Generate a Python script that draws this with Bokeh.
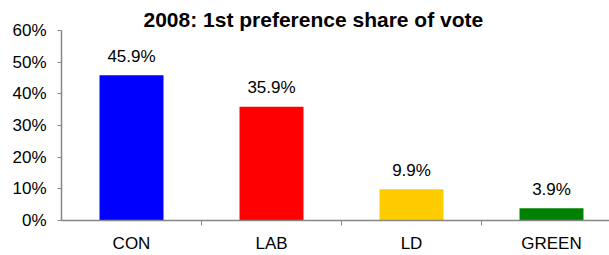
from bokeh.plotting import figure
from bokeh.models import Range1d, FixedTicker, ColumnDataSource, Title
from bokeh.core.properties import value
from bokeh.embed import file_html
from bokeh.resources import INLINE

# data
parties = ["CON", "LAB", "LD", "GREEN"]
shares = [45.9, 35.9, 9.9, 3.9]
colors = ["#0000FF", "#FF0000", "#FFCC00", "#008000"]
y_ticks = [0, 10, 20, 30, 40, 50, 60]
y_tick_labels = ["0%", "10%", "20%", "30%", "40%", "50%", "60%"]
title_text = "2008: 1st preference share of vote"

xpos = [i + 0.5 for i in range(len(parties))]
labels = [f"{v:.1f}%" for v in shares]
src = ColumnDataSource(dict(x=xpos, top=shares, color=colors, label=labels))

FONT = "Liberation Sans"
AXIS_COLOR = "#868686"

p = figure(width=609, height=255, output_backend="svg",
           toolbar_location=None,
           x_range=Range1d(0, 548 / 140), y_range=Range1d(0, 60),
           min_border_left=61, min_border_right=0, min_border_top=30,
           min_border_bottom=35)
p.title = None
t = Title(text=title_text, text_font=FONT, text_font_size="21px",
          text_font_style="bold", text_color="#000000",
          align="left", offset=82, standoff=0)
p.add_layout(t, "above")

p.vbar(x="x", top="top", width=0.457, color="color", source=src, line_color=None)
p.text(x="x", y="top", text="label", source=src, text_align="center",
       text_baseline="alphabetic", y_offset=-19, text_font=value(FONT),
       text_font_size="17px", text_color="#000000")

p.xgrid.visible = False
p.ygrid.visible = False
p.outline_line_color = None
p.background_fill_color = "white"
p.border_fill_color = "white"

xa = p.xaxis[0]
xa.ticker = FixedTicker(ticks=xpos, minor_ticks=[1, 2, 3])
xa.major_label_overrides = {x: name for x, name in zip(xpos, parties)}
xa.major_tick_line_color = None
xa.major_tick_out = 0
xa.major_tick_in = 0
xa.minor_tick_out = 5
xa.minor_tick_in = 0
xa.minor_tick_line_color = AXIS_COLOR
xa.axis_line_color = AXIS_COLOR
xa.axis_line_width = 1.5
xa.major_label_standoff = 8
xa.major_label_text_font = FONT
xa.major_label_text_font_size = "17px"
xa.major_label_text_color = "#000000"

ya = p.yaxis[0]
ya.ticker = FixedTicker(ticks=y_ticks, minor_ticks=[])
ya.major_label_overrides = {t_: l for t_, l in zip(y_ticks, y_tick_labels)}
ya.major_tick_out = 4
ya.major_tick_in = 0
ya.major_tick_line_color = AXIS_COLOR
ya.axis_line_color = AXIS_COLOR
ya.axis_line_width = 1.5
ya.major_label_standoff = 11
ya.major_label_text_font = FONT
ya.major_label_text_font_size = "17px"
ya.major_label_text_color = "#000000"

open("out.html", "w").write(file_html(p, INLINE))
